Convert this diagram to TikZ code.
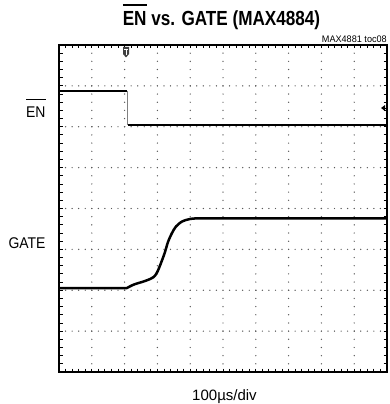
\documentclass[tikz,border=0pt]{standalone}
\usepackage{fontspec}
\setmainfont{Liberation Sans}
\newfontfamily\titlefont{Liberation Sans}[FakeStretch=0.84]
\newfontfamily\labelfont{Liberation Sans}[FakeStretch=0.9]
\newfontfamily\codefont{Liberation Sans}[FakeStretch=0.96]
\newcommand\ovbar[3]{\vbox{\hrule height #2\kern#3\hbox{#1}}}
\begin{document}
\begin{tikzpicture}[x=1pt,y=-1pt,
  gdot/.style={fill=black!65},
  tick/.style={line width=0.9pt,black},
  trace/.style={line width=2.5pt,line join=round,line cap=butt},
  lbl/.style={inner sep=0pt,font=\labelfont\fontsize{15.5}{17}\selectfont}]
\useasboundingbox (0,0) rectangle (389,404);
% grid dots
\foreach \i in {1,...,9}{
  \pgfmathsetmacro\gx{59+32.8*\i}
  \foreach \k in {1,...,39}{
    \fill[gdot] (\gx,45+8.175*\k) circle (0.7);
  }
}
\foreach \j in {1,...,7}{
  \pgfmathsetmacro\gy{45+40.875*\j}
  \foreach \k in {1,...,49}{
    \fill[gdot] (59+6.56*\k,\gy) circle (0.7);
  }
}
% frame ticks
\foreach \k in {1,...,39}{
  \draw[tick] (59,45+8.175*\k) -- (62.5,45+8.175*\k);
  \draw[tick] (383.5,45+8.175*\k) -- (387,45+8.175*\k);
}
\foreach \k in {1,...,49}{
  \draw[tick] (59+6.56*\k,45) -- (59+6.56*\k,48.5);
  \draw[tick] (59+6.56*\k,368.5) -- (59+6.56*\k,372);
}
% frame
\draw[line width=2.6pt] (59,45) rectangle (387,372);
% EN trace
\draw[trace] (60,91) -- (126.5,91);
\draw[black!50,line width=1pt] (127,91) -- (127,125);
\draw[trace] (127.5,125) -- (386,125);
% GATE trace
\draw[trace] (60,288) -- (127,288)
  plot[smooth,tension=0.55] coordinates {(127,288) (134,284.5) (145,281) (153,277.5) (157,272.5) (161,263) (165,252) (168,242) (172,233) (176,226.5) (182,221.5) (190,219) (198,218.3)}
  -- (386,218.3);
% trigger marker
\fill[black!75] (123,47) -- (129,47) -- (129,54) -- (126,57.5) -- (123,54) -- cycle;
\draw[white,line width=1pt] (124.3,49.2) -- (127.7,49.2) (126,49.2) -- (126,55);
% right level marker
\fill (381,108) -- (385,105) -- (385,111) -- cycle;
\draw[line width=1pt] (383,108) -- (386,108);
% texts
\node[inner sep=0pt,anchor=base,font=\titlefont\bfseries\fontsize{20.4}{24}\selectfont] (title) at (221.5,25.3) {\ovbar{EN}{1.4pt}{5.5pt} vs. GATE (MAX4884)};
\node[inner sep=0pt,anchor=base east,font=\codefont\fontsize{9.5}{11}\selectfont] (code) at (387,43) {MAX4881 toc08};
\node[lbl,anchor=base east] (enlabel) at (45.7,117) {\ovbar{EN}{0.9pt}{6.5pt}};
\node[lbl,anchor=base east] (gatelabel) at (45.7,248.5) {GATE};
\node[inner sep=0pt,anchor=base,font=\fontsize{15}{17}\selectfont] (xlabel) at (224.5,400) {100µs/div};
\end{tikzpicture}
\end{document}
